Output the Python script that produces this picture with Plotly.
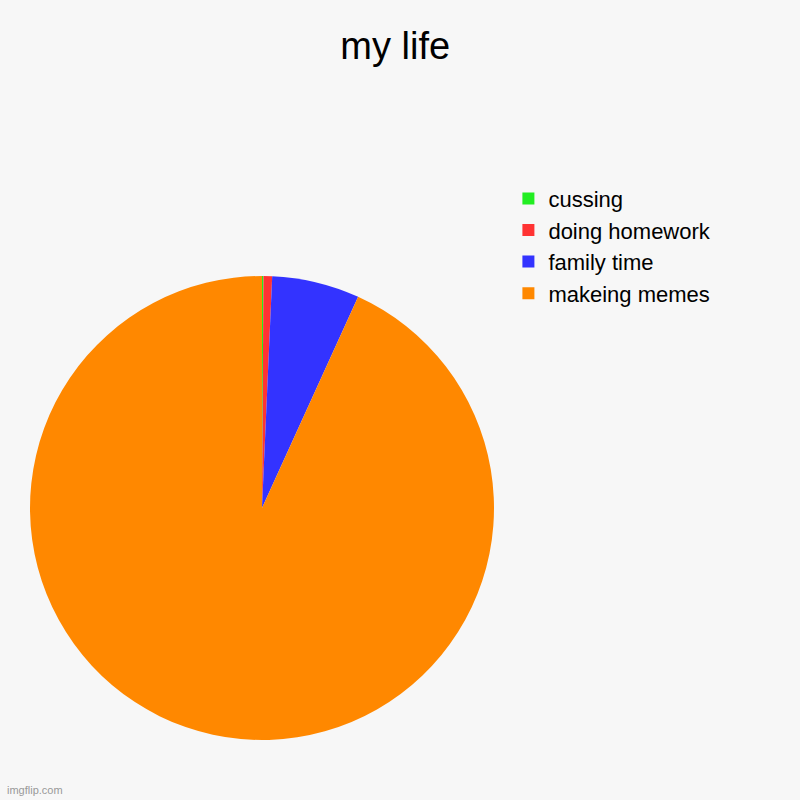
import plotly.graph_objects as go

labels = ["cussing", "doing homework", "family time", "makeing memes"]
values = [0.1, 0.6, 6.1, 93.2]
colors = ["#22ee22", "#ff3333", "#3333ff", "#ff8800"]

fig = go.Figure(go.Pie(
    labels=labels,
    values=values,
    sort=False,
    direction="clockwise",
    rotation=0,
    textinfo="none",
    hoverinfo="label+percent",
    marker=dict(colors=colors, line=dict(width=0)),
    domain=dict(x=[30 / 800, 494 / 800], y=[60 / 800, 524 / 800]),
))

fig.update_layout(
    width=800,
    height=800,
    margin=dict(l=0, r=0, t=0, b=0),
    paper_bgcolor="#f7f7f7",
    plot_bgcolor="#f7f7f7",
    font=dict(family="Liberation Sans, Arial, sans-serif", color="#000000"),
    title=dict(text="my life", x=0.494, xanchor="center", y=0.943, yanchor="middle",
               font=dict(size=38, color="#000000")),
    legend=dict(
        x=0.6355, y=0.778, xanchor="left", yanchor="top",
        font=dict(size=22, color="#000000"),
        bgcolor="rgba(0,0,0,0)",
        tracegroupgap=0,
        itemwidth=30,
    ),
    annotations=[dict(
        text="imgflip.com", xref="paper", yref="paper", x=0.006, y=0.002,
        xanchor="left", yanchor="bottom", showarrow=False,
        font=dict(size=11, color="#999999"),
    )],
)

fig.write_html("out.html", config={"displayModeBar": False},
               post_script="document.body.style.margin='0';")
